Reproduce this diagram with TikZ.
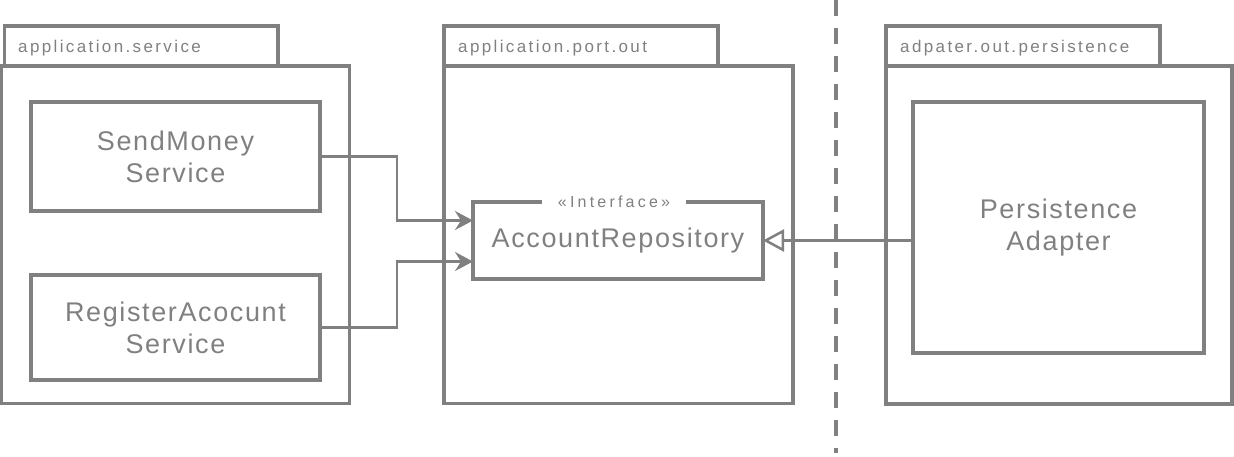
\documentclass[tikz,border=0pt]{standalone}
\usepackage{fontspec}
\setmainfont{Liberation Sans}
\newfontfamily\mainlbl[LetterSpace=6]{Liberation Sans}
\newfontfamily\tablbl[LetterSpace=14]{Liberation Sans}
\newfontfamily\stlbl[LetterSpace=20]{Liberation Sans}
\usetikzlibrary{arrows.meta,calc}
\definecolor{lc}{HTML}{808080}
\tikzset{
  pkg/.style={draw=lc, line width=3.2pt},
  inbox/.style={draw=lc, line width=3.2pt, rectangle, anchor=north west, inner sep=0pt, outer sep=0pt,
     align=center, text=lc, font=\mainlbl\fontsize{27}{32}\selectfont},
  tabtext/.style={anchor=west, inner sep=0pt, text=lc, font=\tablbl\fontsize{17}{20}\selectfont},
  conn/.style={draw=lc, line width=2.5pt, -{Stealth[length=18pt,width=19pt,inset=6pt]}},
  realize/.style={draw=lc, line width=2.5pt, -{Triangle[open,length=21pt,width=22pt,fill=white,line width=2.5pt]}},
  sep/.style={draw=lc, line width=3.6pt, dash pattern=on 16pt off 12pt}
}
\begin{document}
\begin{tikzpicture}[x=1pt,y=-1pt]
\useasboundingbox (0,0) rectangle (1234,456);
% dashed boundary
\coordinate (dtop) at (836,0);
\coordinate (dbot) at (836,453);
\draw[sep] (dtop) -- (dbot);
% packages
\draw[pkg] (4.5,26) rectangle (278,66);
\draw[pkg] (1.5,66) rectangle (349.5,403.5);
\node[tabtext] (t1) at (18,48) {application.service};
\draw[pkg] (444,26) rectangle (718,66);
\draw[pkg] (444,66) rectangle (793,403.5);
\node[tabtext] (t2) at (458,48) {application.port.out};
\draw[pkg] (886,26) rectangle (1160,66);
\draw[pkg] (886,66) rectangle (1232,404);
\node[tabtext] (t3) at (900,48) {adpater.out.persistence};
% inner boxes
\node[inbox, minimum width=289pt, minimum height=109pt] (send) at (31,102) {SendMoney\\Service};
\node[inbox, minimum width=289pt, minimum height=105pt] (reg) at (31,275) {RegisterAcocunt\\Service};
\node[inbox, minimum width=290pt, minimum height=77pt] (iface) at (473,202) {AccountRepository};
\node[fill=white, inner xsep=16pt, inner ysep=1pt, text=lc, font=\stlbl\fontsize{16}{18}\selectfont] (st) at ([xshift=-4pt]iface.north) {«Interface»};
\node[inbox, minimum width=291pt, minimum height=251pt] (pers) at (913,102) {Persistence\\Adapter};
% connectors
\draw[conn] (send.east) -- ++(77,0) |- ([yshift=20pt]iface.west);
\draw[conn] (reg.east) -- ++(77,0) |- ([yshift=-21pt]iface.west);
\draw[realize] (pers.west |- iface.east) -- (iface.east);
\end{tikzpicture}
\end{document}
